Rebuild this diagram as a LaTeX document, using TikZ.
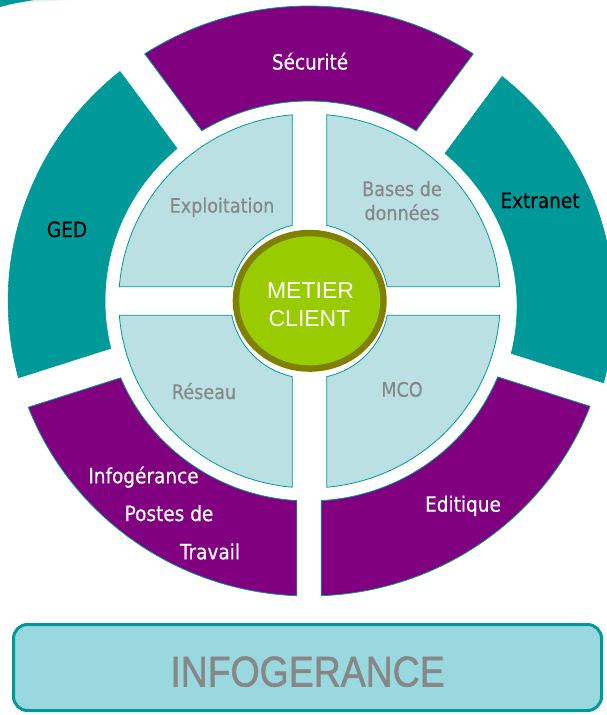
\documentclass[tikz,border=0pt]{standalone}
\usepackage{fontspec}
\newfontfamily\tfont{DejaVu Sans}[FakeStretch=0.88,FakeBold=0.4]
\newfontfamily\afont{Liberation Sans}
\newfontfamily\nfont{Liberation Sans}[FakeStretch=0.87,FakeBold=1.2]
\definecolor{cteal}{HTML}{009999}
\definecolor{cpurple}{HTML}{800080}
\definecolor{cquad}{HTML}{BBE0E3}
\definecolor{cgray}{HTML}{878787}
\definecolor{cgreen}{HTML}{99CC00}
\definecolor{colive}{HTML}{808000}
\definecolor{cbox}{HTML}{98D8DE}
\def\Ra{200}
\def\Rb{295}
\def\Qa{77.5}
\def\Qb{187}
\def\hx{16.9}
\def\hy{14.2}
% ring segment: #1 style, #2 theta1, #3 half gap 1, #4 theta2, #5 half gap 2
\newcommand\ringseg[5]{%
  \path[#1] ({#2+asin(#3/\Rb)}:\Rb)
    arc[start angle={#2+asin(#3/\Rb)}, end angle={#4-asin(#5/\Rb)}, radius=\Rb]
    -- ({#4-asin(#5/\Ra)}:\Ra)
    arc[start angle={#4-asin(#5/\Ra)}, end angle={#2+asin(#3/\Ra)}, radius=\Ra]
    -- cycle;}
\newcommand\quadrant[1]{%
  \path[quadseg,#1] ({asin(\hy/\Qb)}:\Qb)
    arc[start angle={asin(\hy/\Qb)}, end angle={acos(\hx/\Qb)}, radius=\Qb]
    -- ({acos(\hx/\Qa)}:\Qa)
    arc[start angle={acos(\hx/\Qa)}, end angle={asin(\hy/\Qa)}, radius=\Qa]
    -- cycle;}
\tikzset{
  tealseg/.style={fill=cteal, draw=cteal, line width=0.6pt},
  purpseg/.style={fill=cpurple, draw=cteal, line width=0.8pt},
  quadseg/.style={fill=cquad, draw=cteal, line width=0.8pt},
  quadtxt/.style={font=\tfont\fontsize{20}{24}\selectfont, text=cgray, inner sep=0pt, anchor=base},
  ringtxtw/.style={font=\tfont\fontsize{21}{25}\selectfont, text=white, inner sep=0pt, anchor=base},
  ringtxtb/.style={font=\tfont\fontsize{21}{25}\selectfont, text=black, inner sep=0pt, anchor=base},
  metiertxt/.style={font=\afont\fontsize{23}{27}\selectfont, text=white, inner sep=0pt, anchor=base},
  bigbox/.style={draw=cteal, fill=cbox, line width=3pt, rounded corners=14pt, minimum width=588pt, minimum height=86pt, inner sep=0pt},
  bigtxt/.style={font=\nfont\fontsize{43}{48}\selectfont, text=cgray, inner sep=0pt, anchor=base}
}
\begin{document}
\begin{tikzpicture}[x=1pt,y=1pt]
\useasboundingbox (0,0) rectangle (607,-715);
% decorative sliver top-left
\fill[cteal!12] (0,0) -- (70,0) .. controls (50,-1) and (30,-2) .. (20,-3) -- cycle;
\fill[cteal] (0,0) -- (34,0) .. controls (22,-2) and (10,-4) .. (0,-7) -- cycle;
% outer ring
\begin{scope}[shift={(309,-301)}, xscale=1.02]
  \ringseg{purpseg}{54}{15}{126}{15}
  \ringseg{tealseg}{126}{15}{198}{15}
  \ringseg{purpseg}{198}{16}{270}{12}
  \ringseg{purpseg}{-90}{12}{-18}{15}
  \ringseg{tealseg,shift={(4,-5)}}{-18}{15}{54}{15}
\end{scope}
% inner quadrants
\begin{scope}[shift={(309.5,-301)}, xscale=1.02]
  \quadrant{}
  \quadrant{xscale=-1}
  \quadrant{yscale=-1}
  \quadrant{xscale=-1,yscale=-1}
\end{scope}
% centre
\fill[colive] (309.7,-300.8) ellipse[x radius=77, y radius=71];
\fill[cgreen] (309.7,-300.8) ellipse[x radius=70.5, y radius=64.5];
\node[metiertxt] (met1) at (310.5,-298.3) {METIER};
\node[metiertxt] (met2) at (309.5,-326) {CLIENT};
% ring labels
\node[ringtxtw] (secu) at (310,-69.5) {Sécurité};
\node[ringtxtb] (ged) at (67,-237) {GED};
\node[ringtxtb] (extra) at (540,-208) {Extranet};
\node[ringtxtw] (info1) at (143.5,-483.3) {Infogérance};
\node[ringtxtw] (info2) at (169,-521) {Postes de};
\node[ringtxtw] (info3) at (210,-559.3) {Travail};
\node[ringtxtw] (edit) at (463,-511.7) {Editique};
% quadrant labels
\node[quadtxt] (expl) at (222,-212.7) {Exploitation};
\node[quadtxt] (bases1) at (402,-196) {Bases de};
\node[quadtxt] (bases2) at (402,-220) {données};
\node[quadtxt] (reseau) at (204,-399) {Réseau};
\node[quadtxt] (mco) at (402,-396.7) {MCO};
% bottom box
\node[bigbox] (box) at (307.5,-667.5) {};
\node[bigtxt] (boxtxt) at (307.5,-686.5) {INFOGERANCE};
\end{tikzpicture}
\end{document}
